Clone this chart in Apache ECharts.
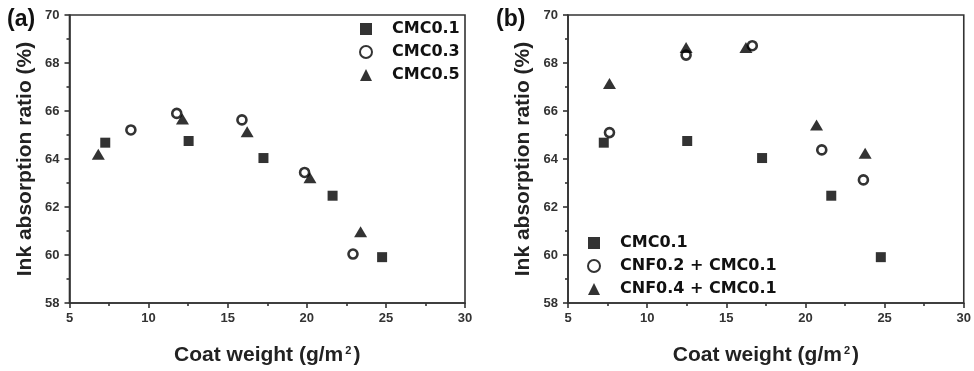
<!DOCTYPE html>
<html>
<head>
<meta charset="utf-8">
<script src="https://cdn.jsdelivr.net/npm/echarts@6/dist/echarts.min.js"></script>
<style>html,body{margin:0;padding:0;background:#fff;}#c{width:974px;height:371px;}</style>
</head>
<body>
<div id="c"></div>
<script>
// ---- data ----
const cmc01X = [7.26, 12.53, 17.26, 21.63, 24.76];
const cmc01Y = [64.68, 64.75, 64.04, 62.47, 59.91];
const cmc03X = [8.88, 11.78, 15.9, 19.86, 22.92];
const cmc03Y = [65.21, 65.9, 65.63, 63.44, 60.04];
const cmc05X = [6.82, 12.14, 16.23, 20.2, 23.4];
const cmc05Y = [64.2, 65.67, 65.14, 63.22, 60.97];
const cnf02X = [7.62, 12.46, 16.64, 21.03, 23.66];
const cnf02Y = [65.1, 68.33, 68.72, 64.38, 63.13];
const cnf04X = [7.62, 12.46, 16.24, 20.7, 23.77];
const cnf04Y = [67.15, 68.65, 68.65, 65.42, 64.24];
const xMin = 5, xMax = 30, xStep = 5;
const yMin = 58, yMax = 70, yStep = 2;
const legendA = ['CMC0.1', 'CMC0.3', 'CMC0.5'];
const legendB = ['CMC0.1 ', 'CNF0.2 + CMC0.1', 'CNF0.4 + CMC0.1'];
const xTitle = 'Coat weight (g/m{sup|2})';
const yTitle = 'Ink absorption ratio (%)';
const panelLabels = ['(a)', '(b)'];

const pts = (xs, ys) => xs.map((x, i) => [x, ys[i]]);
const AX = '#333';
const SANS = "'Liberation Sans', Arial, sans-serif";

function xAxis(gi) {
  return {
    type: 'value', gridIndex: gi, min: xMin, max: xMax, interval: xStep,
    name: xTitle, nameLocation: 'middle', nameGap: 42,
    nameTextStyle: {fontFamily: SANS, fontWeight: 'bold', fontSize: 21, color: '#222',
      rich: {sup: {fontFamily: SANS, fontWeight: 'bold', fontSize: 11, color: '#222', verticalAlign: 'top', padding: [0, 2, 6, 2]}}},
    axisLine: {show: true, lineStyle: {color: AX, width: 1.6}},
    axisTick: {show: true, inside: false, length: 5, lineStyle: {color: AX, width: 1.6}},
    minorTick: {show: true, splitNumber: 2, length: 3, lineStyle: {color: AX, width: 1.6}},
    axisLabel: {fontFamily: SANS, fontWeight: 'bold', fontSize: 13, color: '#333', margin: 9},
    splitLine: {show: false}
  };
}
function yAxis(gi) {
  return {
    type: 'value', gridIndex: gi, min: yMin, max: yMax, interval: yStep,
    name: yTitle, nameLocation: 'middle', nameGap: 34, nameRotate: 90,
    nameTextStyle: {fontFamily: SANS, fontWeight: 'bold', fontSize: 21, color: '#222'},
    axisLine: {show: true, lineStyle: {color: AX, width: 1.6}},
    axisTick: {show: true, inside: false, length: 5, lineStyle: {color: AX, width: 1.6}},
    minorTick: {show: true, splitNumber: 2, length: 3, lineStyle: {color: AX, width: 1.6}},
    axisLabel: {fontFamily: SANS, fontWeight: 'bold', fontSize: 13, color: '#333', margin: 10},
    splitLine: {show: false}
  };
}
const sq = {symbol: 'rect', symbolSize: 10, itemStyle: {color: '#000'}};
const ci = {symbol: 'circle', symbolSize: 9, itemStyle: {color: '#fff', borderColor: '#000', borderWidth: 2.6}};
const tr = {symbol: 'triangle', symbolSize: [13, 11], itemStyle: {color: '#000'}};
function sc(name, gi, style, data, z) {
  return Object.assign({type: 'scatter', name: name, xAxisIndex: gi, yAxisIndex: gi, data: data, z: z, silent: true}, JSON.parse(JSON.stringify(style)));
}
const legText = {fontFamily: "'DejaVu Sans', sans-serif", fontWeight: 'bold', fontSize: 16, color: '#111', padding: [0, 0, 0, 15]};

const chart = echarts.init(document.getElementById('c'), null, {renderer: 'canvas'});
chart.setOption({
  animation: false,
  backgroundColor: '#fff',
  title: [
    {text: panelLabels[0], left: 2, top: 3, textStyle: {fontFamily: SANS, fontWeight: 'bold', fontSize: 23, color: '#111'}},
    {text: panelLabels[1], left: 491, top: 3, textStyle: {fontFamily: SANS, fontWeight: 'bold', fontSize: 23, color: '#111'}}
  ],
  grid: [
    {left: 69.5, right: 509, top: 15, bottom: 68, show: true, borderColor: AX, borderWidth: 1.6, backgroundColor: 'transparent'},
    {left: 568, right: 10, top: 15, bottom: 68, show: true, borderColor: AX, borderWidth: 1.6, backgroundColor: 'transparent'}
  ],
  legend: [
    {data: legendA, orient: 'vertical', left: 354, top: 16, itemWidth: 12, itemHeight: 12, itemGap: 7, textStyle: legText, selectedMode: false},
    {data: legendB, orient: 'vertical', left: 582, top: 230, itemWidth: 12, itemHeight: 12, itemGap: 7, textStyle: legText, selectedMode: false}
  ],
  xAxis: [xAxis(0), xAxis(1)],
  yAxis: [yAxis(0), yAxis(1)],
  series: [
    sc(legendA[0], 0, sq, pts(cmc01X, cmc01Y), 3),
    sc(legendA[1], 0, ci, pts(cmc03X, cmc03Y), 4),
    sc(legendA[2], 0, tr, pts(cmc05X, cmc05Y), 5),
    sc(legendB[0], 1, sq, pts(cmc01X, cmc01Y), 3),
    sc(legendB[1], 1, ci, pts(cnf02X, cnf02Y), 4),
    sc(legendB[2], 1, tr, pts(cnf04X, cnf04Y), 5)
  ]
});
</script>
</body>
</html>
